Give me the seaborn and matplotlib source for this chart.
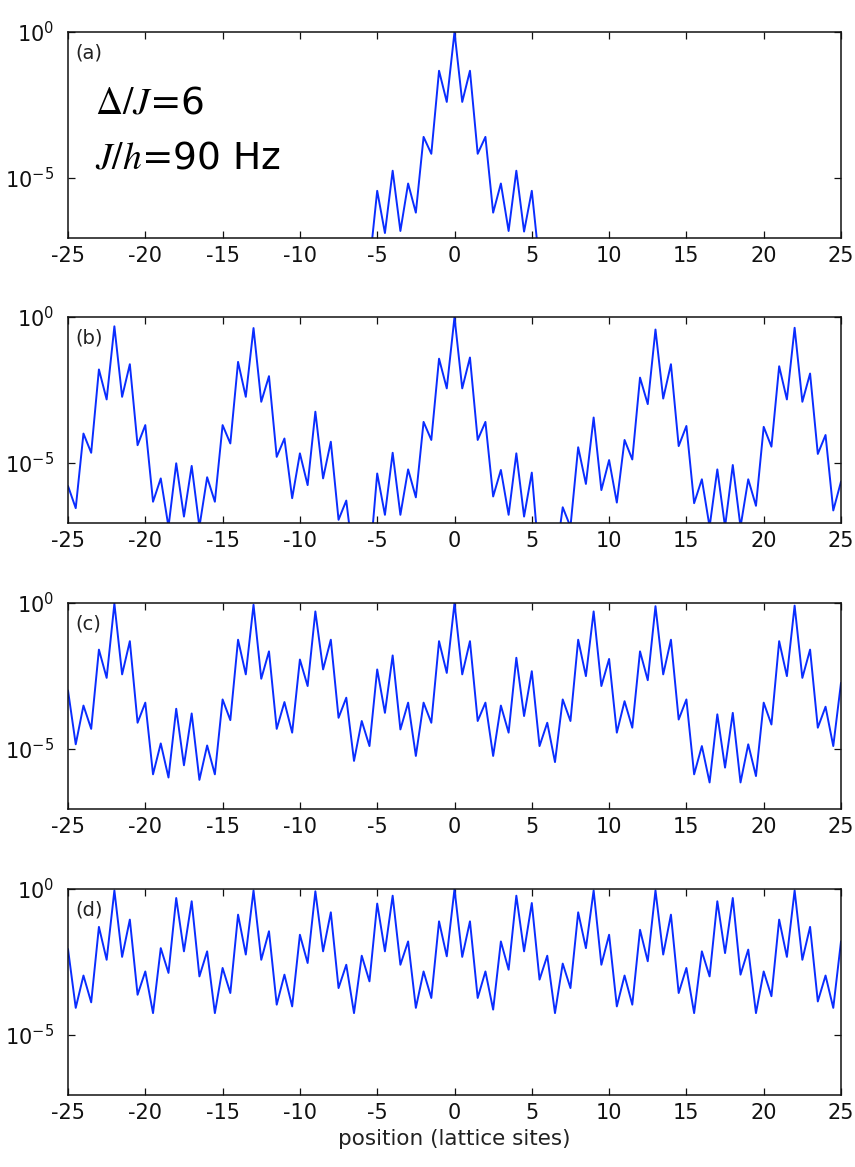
import numpy as np
import pandas as pd
import matplotlib
matplotlib.use("Agg")
import matplotlib.pyplot as plt
import matplotlib.ticker as mticker
import seaborn as sns

# lattice sites and the mid points between them
sites = np.arange(-25, 26)
mids = np.arange(-24.5, 25, 1.0)

# log10 of the density: on each site (peaks) and between sites (dips)
peaks_a = [-9.0] * 20 + [-5.45, -4.76, -5.2, -3.6, -1.33, 0.0, -1.33, -3.6, -5.2, -4.76, -5.45] + [-9.0] * 20
dips_a = [-9.5] * 19 + [-8.0, -6.9, -6.83, -6.2, -4.18, -2.4, -2.4, -4.18, -6.2, -6.83, -6.85, -8.0] + [-9.5] * 19

peaks_b = [-5.8, -4.0, -1.8, -0.32, -1.62, -3.71, -5.54, -5.02, -5.11, -5.5,
           -3.71, -1.54, -0.38, -2.03, -4.17, -4.68, -3.25, -4.28, -6.3, -7.6,
           -5.37, -4.66, -5.23, -3.6, -1.43, 0.0, -1.39, -3.6, -5.25, -4.68,
           -5.34, -7.6, -6.53, -4.47, -3.45, -4.91, -4.22, -2.08, -0.43, -1.62,
           -3.74, -5.57, -5.23, -5.08, -5.57, -3.77, -1.69, -0.37, -1.94, -4.05,
           -5.65]
dips_b = [-6.56, -4.66, -2.83, -2.74, -4.4, -6.34, -7.2, -6.85, -7.2, -6.34,
          -4.34, -2.74, -2.91, -4.8, -6.22, -5.77, -5.54, -6.96, -8.5, -8.5,
          -6.79, -6.79, -6.19, -4.22, -2.45, -2.45, -4.22, -6.16, -6.79, -6.85,
          -8.5, -8.5, -7.2, -5.73, -5.94, -6.37, -4.89, -2.99, -2.8, -4.43,
          -6.39, -7.2, -7.2, -7.2, -6.48, -4.45, -2.83, -2.91, -4.7, -6.64]

peaks_c = [-3.0, -3.52, -1.6, -0.02, -1.31, -3.42, -4.82, -3.63, -3.79, -4.89,
           -3.31, -1.26, -0.06, -1.66, -3.4, -1.94, -0.29, -1.26, -3.25, -4.05,
           -2.28, -1.8, -3.42, -3.42, -1.31, 0.0, -1.31, -3.42, -3.52, -1.88,
           -2.34, -4.11, -3.31, -1.26, -0.29, -1.92, -3.37, -1.66, -0.11, -1.26,
           -3.31, -4.91, -3.82, -3.77, -4.85, -3.42, -1.31, -0.09, -1.6, -3.56,
           -2.74]
dips_c = [-4.85, -4.32, -2.57, -2.45, -4.11, -5.88, -5.99, -5.57, -6.07, -5.88,
          -4.02, -2.45, -2.6, -4.32, -4.45, -2.85, -2.28, -3.94, -5.42, -4.91,
          -3.77, -4.34, -5.25, -4.11, -2.4, -2.45, -4.05, -5.25, -4.45, -3.88,
          -4.91, -5.46, -4.05, -2.51, -2.85, -4.45, -4.28, -2.65, -2.45, -4.0,
          -5.88, -6.16, -5.65, -6.16, -5.94, -4.17, -2.51, -2.57, -4.28, -4.91]

peaks_d = [-2.06, -2.97, -1.3, -0.05, -1.05, -2.83, -2.03, -0.31, -0.42, -2.14,
           -2.71, -0.88, -0.05, -1.45, -2.94, -1.57, -0.08, -0.8, -2.6, -2.29,
           -0.5, -0.23, -1.8, -2.83, -1.11, 0.0, -1.11, -2.83, -1.8, -0.23,
           -0.48, -2.29, -2.56, -0.8, -0.05, -1.57, -2.97, -1.4, -0.05, -0.88,
           -2.71, -2.14, -0.42, -0.31, -2.08, -2.83, -1.05, -0.05, -1.3, -2.97,
           -1.8]
dips_d = [-4.08, -3.89, -2.43, -2.33, -3.63, -4.26, -2.88, -2.14, -3.0, -4.26,
          -3.57, -2.25, -2.43, -3.97, -4.03, -2.54, -2.14, -3.4, -4.26, -3.17,
          -2.14, -2.6, -4.08, -3.74, -2.31, -2.33, -3.74, -4.14, -2.77, -2.14,
          -3.11, -4.26, -3.4, -2.03, -2.6, -4.03, -3.97, -2.48, -2.25, -3.57,
          -4.26, -3.0, -2.2, -2.94, -4.26, -3.68, -2.33, -2.43, -3.86, -4.08]

panel_labels = ["(a)", "(b)", "(c)", "(d)"]
x_ticks = np.arange(-25, 26, 5)
y_ticks = [1e-5, 1e0]
y_tick_labels = [r"$\mathregular{10^{-5}}$", r"$\mathregular{10^{0}}$"]


def build_frame(peaks, dips):
    x = np.concatenate([sites, mids])
    y = np.concatenate([peaks, dips])
    df = pd.DataFrame({"position": x, "density": 10.0 ** y})
    return df.sort_values("position").reset_index(drop=True)


sns.set_style("ticks")
plt.rcParams["font.family"] = ["DejaVu Sans"]
plt.rcParams["mathtext.fontset"] = "stix"
plt.rcParams["axes.unicode_minus"] = False

fig = plt.figure(figsize=(8.55, 11.67), dpi=100)
W, H = 855.0, 1167.0
tops = [32, 317, 603, 889]
box_h = 206

frames = [build_frame(peaks_a, dips_a), build_frame(peaks_b, dips_b),
          build_frame(peaks_c, dips_c), build_frame(peaks_d, dips_d)]

for i, df in enumerate(frames):
    ax = fig.add_axes([68 / W, 1 - (tops[i] + box_h) / H, 773 / W, box_h / H])
    sns.lineplot(data=df, x="position", y="density", ax=ax, color="#0a2dff",
                 linewidth=1.4, estimator=None)
    ax.set_yscale("log")
    ax.set_xlim(-25, 25)
    ax.set_ylim(10 ** -7.07, 1.0)
    ax.yaxis.set_major_locator(mticker.FixedLocator(y_ticks))
    ax.yaxis.set_minor_locator(mticker.NullLocator())
    ax.set_yticklabels(y_tick_labels)
    ax.set_xticks(x_ticks)
    ax.set_xticklabels([str(t) for t in x_ticks])
    ax.tick_params(direction="in", top=True, right=True, length=5, width=0.9,
                   labelsize=15, colors="#111111")
    ax.tick_params(axis="x", pad=6)
    ax.tick_params(axis="y", pad=10)
    for sp in ax.spines.values():
        sp.set_linewidth(1.1)
        sp.set_color("#111111")
    ax.set_ylabel("")
    ax.set_xlabel("")
    ax.text(0.009, 0.9, panel_labels[i], transform=ax.transAxes, fontsize=14,
            color="#222222", va="center", ha="left")

    if i == 0:
        ax.text(0.035, 0.605, r"$\Delta/J$=6", transform=ax.transAxes,
                fontsize=27, va="baseline", ha="left", color="black")
        ax.text(0.035, 0.337, r"$J/h$=90 Hz", transform=ax.transAxes,
                fontsize=27, va="baseline", ha="left", color="black")
    if i == 3:
        ax.set_xlabel("position (lattice sites)", fontsize=15.5, color="#222222",
                      labelpad=4)

fig.savefig("out.png", dpi=100)
